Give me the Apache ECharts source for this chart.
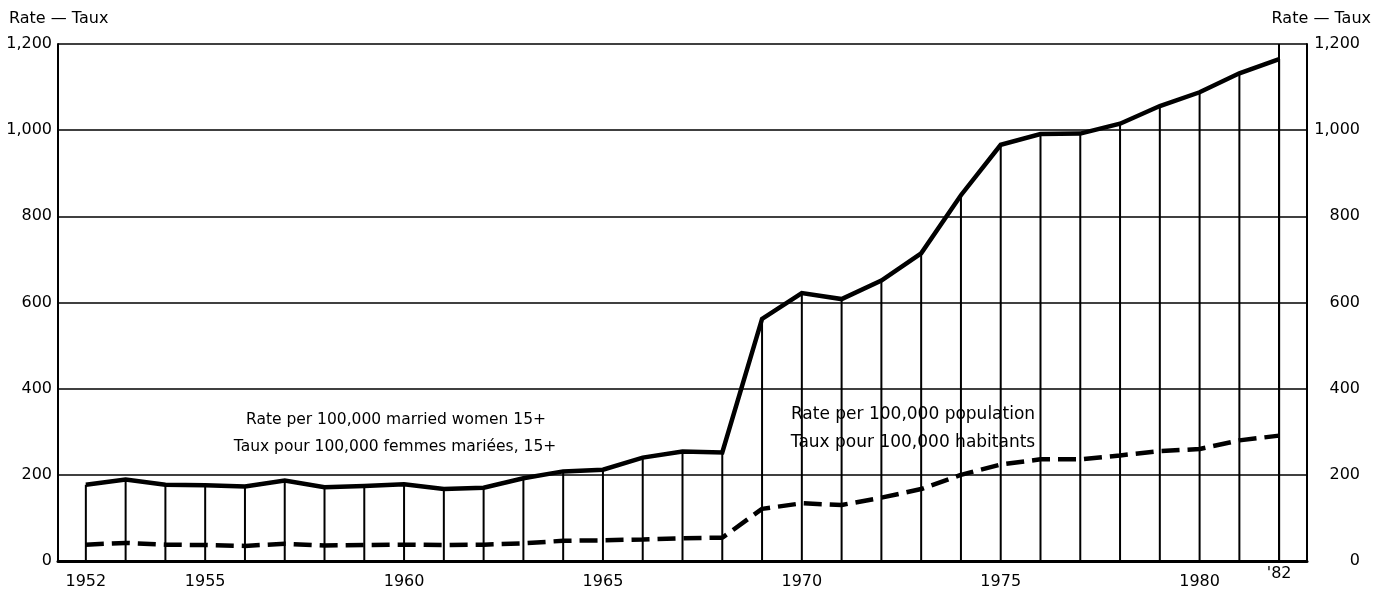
<!DOCTYPE html>
<html>
<head>
<meta charset="utf-8">
<script src="https://cdn.jsdelivr.net/npm/echarts@6/dist/echarts.min.js"></script>
<style>
html,body{margin:0;padding:0;background:#fff;}
#chart{width:1375px;height:594px;}
</style>
</head>
<body>
<div id="chart"></div>
<script>
var years = [1952,1953,1954,1955,1956,1957,1958,1959,1960,1961,1962,1963,1964,1965,1966,1967,1968,1969,1970,1971,1972,1973,1974,1975,1976,1977,1978,1979,1980,1981,1982];
var rateMarriedWomen = [177,189,177,176,173,187,171,174,178,167,170,192,208,212,240,254,252,562,622,608,651,714,849,966,991,992,1015,1056,1088,1132,1165];
var ratePopulation = [38,42,38,37,35,40,36,37,38,37,38,41,47,48,50,53,54,121,134,130,147,167,200,224,236,236,245,255,260,280,291];
var xTickLabels = [1952,1955,1960,1965,1970,1975,1980];
var xLastTick = [1982];

var FONT = 'DejaVu Sans';
function pairs(vals){ return years.map(function(y,i){ return [y, vals[i]]; }); }
function fmtNum(v){ return String(v).replace(/\B(?=(\d{3})+(?!\d))/g, ','); }

var chart = echarts.init(document.getElementById('chart'));
chart.setOption({
  animation: false,
  backgroundColor: '#fff',
  grid: {left: 58, right: 68, top: 44, bottom: 33},
  xAxis: [{
    type: 'value', min: 1951.3, max: 1982.7,
    axisLine: {show: true, lineStyle: {color: '#000', width: 3}},
    axisTick: {show: false},
    splitLine: {show: false},
    axisLabel: {customValues: xTickLabels, margin: 13, color: '#000', fontFamily: FONT, fontSize: 16,
      formatter: function(v){ return String(v); }}
  }, {
    type: 'value', min: 1951.3, max: 1982.7, position: 'bottom',
    axisLine: {show: false}, axisTick: {show: false}, splitLine: {show: false},
    axisLabel: {customValues: xLastTick, margin: 5, color: '#000', fontFamily: FONT, fontSize: 16,
      formatter: function(v){ return "'" + String(v).slice(2); }}
  }],
  yAxis: [{
    type: 'value', min: 0, max: 1200, interval: 200, position: 'left',
    axisLine: {show: true, lineStyle: {color: '#000', width: 2}},
    axisTick: {show: false},
    splitLine: {show: true, lineStyle: {color: '#000', width: 1.6}},
    axisLabel: {margin: 6, color: '#000', fontFamily: FONT, fontSize: 16, formatter: fmtNum}
  }, {
    type: 'value', min: 0, max: 1200, interval: 200, position: 'right',
    axisLine: {show: true, lineStyle: {color: '#000', width: 2}},
    axisTick: {show: false},
    splitLine: {show: false},
    axisLabel: {margin: 53, align: 'right', color: '#000', fontFamily: FONT, fontSize: 16, formatter: fmtNum}
  }],
  series: [{
    type: 'bar', xAxisIndex: 0, yAxisIndex: 0,
    data: pairs(rateMarriedWomen), barWidth: 2,
    itemStyle: {color: '#000'}, z: 1, silent: true,
    markLine: {symbol: 'none', silent: true, label: {show: false},
      lineStyle: {color: '#000', width: 2, type: 'solid'},
      data: [{xAxis: xLastTick[0]}]}
  }, {
    type: 'line', xAxisIndex: 0, yAxisIndex: 0,
    data: pairs(rateMarriedWomen), symbol: 'none',
    lineStyle: {color: '#000', width: 4.5, join: 'miter'}, z: 3
  }, {
    type: 'line', xAxisIndex: 0, yAxisIndex: 0,
    data: pairs(ratePopulation), symbol: 'none',
    lineStyle: {color: '#000', width: 4.5, type: [18, 8]}, z: 3
  }],
  graphic: [
    {type: 'text', left: 9, top: 11, style: {text: 'Rate — Taux', fill: '#000', font: '16px "' + FONT + '"'}},
    {type: 'text', right: 4, top: 11, style: {text: 'Rate — Taux', fill: '#000', font: '16px "' + FONT + '"'}},
    {type: 'text', x: 396, y: 420, style: {text: 'Rate per 100,000 married women 15+', fill: '#000', font: '15.5px "' + FONT + '"', textAlign: 'center', textVerticalAlign: 'middle'}},
    {type: 'text', x: 395, y: 447, style: {text: 'Taux pour 100,000 femmes mariées, 15+', fill: '#000', font: '15.5px "' + FONT + '"', textAlign: 'center', textVerticalAlign: 'middle'}},
    {type: 'text', x: 913, y: 415, style: {text: 'Rate per 100,000 population', fill: '#000', font: '17px "' + FONT + '"', textAlign: 'center', textVerticalAlign: 'middle', backgroundColor: '#fff'}},
    {type: 'text', x: 913, y: 443, style: {text: 'Taux pour 100,000 habitants', fill: '#000', font: '17px "' + FONT + '"', textAlign: 'center', textVerticalAlign: 'middle', backgroundColor: '#fff'}}
  ]
});
</script>
</body>
</html>
